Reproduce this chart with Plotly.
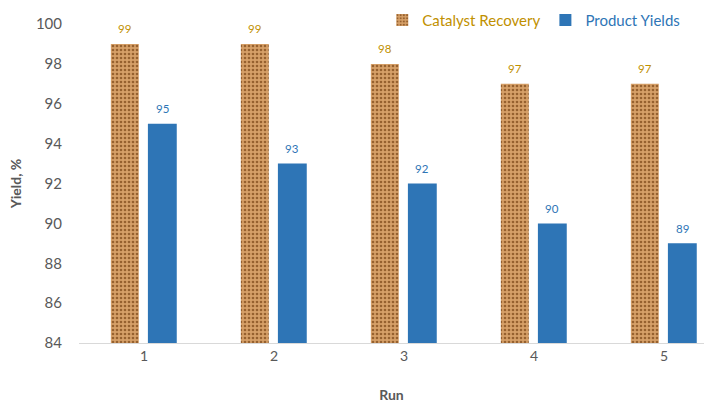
import plotly.graph_objects as go

runs = [1, 2, 3, 4, 5]
catalyst_recovery = [99, 99, 98, 97, 97]
product_yields = [95, 93, 92, 90, 89]
y_ticks = [84, 86, 88, 90, 92, 94, 96, 98, 100]

GOLD = "#BF9000"
BLUE = "#2E75B6"
GREY = "#595959"
FONT = "Lato, 'Open Sans', sans-serif"

fig = go.Figure()

fig.add_trace(go.Bar(
    x=runs, y=catalyst_recovery,
    name=f"<span style='color:{GOLD}'>Catalyst Recovery</span>",
    width=0.215, offset=-0.255,
    marker=dict(
        color="#D39A62",
        line=dict(width=0),
        pattern=dict(shape=".", fgcolor="#96612F", bgcolor="#D6A068",
                     size=4, solidity=0.35, fillmode="replace"),
    ),
))

fig.add_trace(go.Bar(
    x=runs, y=product_yields,
    name=f"<span style='color:{BLUE}'>Product Yields</span>",
    width=0.222, offset=0.03,
    marker=dict(color=BLUE, line=dict(width=0)),
))

# value labels above each bar, placed from the same data
annotations = []
for r, v in zip(runs, catalyst_recovery):
    annotations.append(dict(x=r - 0.255 + 0.1075, y=v, xref="x", yref="y", text=str(v),
                            showarrow=False, yshift=15, font=dict(size=11.5, color=GOLD)))
for r, v in zip(runs, product_yields):
    annotations.append(dict(x=r + 0.03 + 0.111, y=v, xref="x", yref="y", text=str(v),
                            showarrow=False, yshift=15, font=dict(size=11.5, color=BLUE)))

fig.update_layout(
    width=704, height=403,
    margin=dict(l=79, r=0, t=24, b=60, autoexpand=False),
    paper_bgcolor="white", plot_bgcolor="white",
    font=dict(family=FONT, size=13, color=GREY),
    showlegend=True,
    legend=dict(orientation="h", x=0.543, xanchor="left", y=0.95, yanchor="middle",
                yref="container", xref="container",
                font=dict(size=15, family=FONT), traceorder="normal",
                bgcolor="rgba(0,0,0,0)"),
    annotations=annotations,
)

fig.update_xaxes(
    range=[0.5, 5.3077], tickmode="array", tickvals=runs, ticktext=[str(r) for r in runs],
    showline=True, linecolor="#D9D9D9", linewidth=1, showgrid=False, zeroline=False,
    ticks="", tickfont=dict(size=14, color=GREY),
    title=dict(text="<b>Run</b>", font=dict(size=14, color=GREY), standoff=28),
)

fig.update_yaxes(
    range=[84, 100], tickmode="array", tickvals=y_ticks,
    showline=False, showgrid=False, zeroline=False, ticks="",
    tickfont=dict(size=15, color=GREY), ticklabelstandoff=16,
    title=dict(text="<b>Yield, %</b>", font=dict(size=14, color=GREY), standoff=10),
)

fig.write_html("out.html")
